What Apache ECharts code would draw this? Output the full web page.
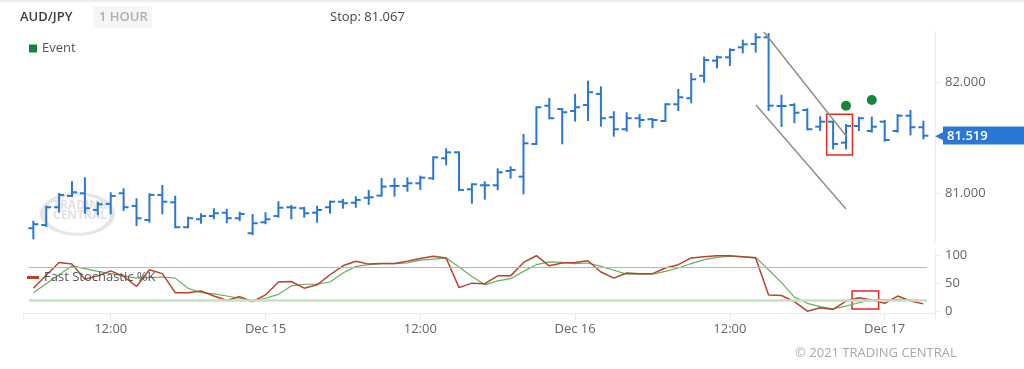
<!DOCTYPE html>
<html><head><meta charset="utf-8">
<script src="https://cdn.jsdelivr.net/npm/echarts@6/dist/echarts.min.js"></script>
<style>html,body{margin:0;padding:0;background:#fff}#c{width:1024px;height:369px}</style>
</head><body><div id="c"></div>
<script>
// Hourly bars, Dec 14 06:00 .. Dec 17 03:00 (index = hours since Dec 14 06:00)
const opens = [80.685,80.714,80.874,80.976,81.000,80.850,80.904,81.000,80.886,80.759,
80.985,80.919,80.694,80.766,80.795,80.825,80.775,80.640,80.739,80.795,
80.874,80.865,80.825,80.874,80.924,80.915,80.960,80.979,81.066,81.066,
81.090,81.135,81.315,81.369,81.036,81.072,81.072,81.201,81.150,81.444,
81.789,81.759,81.741,81.795,81.895,81.685,81.577,81.676,81.667,81.651,
81.802,81.856,82.059,82.195,82.225,82.315,82.345,82.405,81.786,81.795,
81.750,81.600,81.645,81.456,81.606,81.561,81.645,81.561,81.699,81.595];
const highs = [80.744,80.879,80.994,81.099,81.135,80.915,81.000,81.036,80.946,80.991,
81.066,80.969,80.780,80.811,80.856,80.850,80.825,80.804,80.820,80.919,
80.886,80.870,80.879,80.924,80.940,80.964,81.021,81.129,81.129,81.135,
81.150,81.324,81.396,81.369,81.081,81.099,81.216,81.234,81.525,81.775,
81.850,81.759,81.886,82.005,81.955,81.730,81.721,81.705,81.669,81.802,
81.931,82.075,82.222,82.231,82.297,82.375,82.435,82.435,81.879,81.802,
81.757,81.685,81.645,81.615,81.681,81.681,81.651,81.705,81.741,81.645];
const lows = [80.594,80.705,80.834,80.976,80.825,80.811,80.820,80.850,80.714,80.744,
80.820,80.694,80.694,80.735,80.775,80.739,80.759,80.631,80.730,80.789,
80.775,80.789,80.744,80.825,80.870,80.879,80.904,80.979,80.979,81.023,
81.039,81.129,81.261,81.030,80.915,80.951,81.036,81.141,81.000,81.444,
81.676,81.450,81.654,81.660,81.609,81.519,81.564,81.600,81.595,81.651,
81.750,81.820,82.005,82.135,82.156,82.270,82.276,81.750,81.606,81.640,
81.577,81.570,81.405,81.405,81.570,81.555,81.474,81.555,81.531,81.495];
const closes = [80.721,80.874,80.985,81.009,80.865,80.901,80.976,80.874,80.775,80.985,
80.924,80.694,80.775,80.795,80.820,80.775,80.814,80.730,80.766,80.870,
80.870,80.820,80.850,80.924,80.910,80.940,80.964,81.060,81.066,81.090,
81.141,81.324,81.369,81.030,81.081,81.072,81.189,81.210,81.450,81.775,
81.676,81.730,81.775,81.910,81.676,81.577,81.676,81.660,81.660,81.802,
81.865,82.027,82.200,82.225,82.291,82.342,82.405,81.789,81.786,81.726,
81.577,81.645,81.444,81.606,81.676,81.600,81.480,81.699,81.595,81.519];
const fastK = [42,65,88,85,58,64,73,63,45,75,
68,34,34,37,28,20,27,18,30,53,
54,42,48,66,82,90,85,86,86,90,
95,99,96,43,51,50,64,64,88,100,
82,87,88,91,71,60,69,68,68,78,
84,96,98,100,100,98,96,30,29,18,
1,7,4,19,25,21,15,28,19,14];
const slowD = [34,50,66,82,77,72,68,64,60,61,
62,60,42,34,32,28,24,20,24,31,
46,49,49,53,69,81,84,86,86,87,
92,94,96,80,63,48,55,59,72,84,
89,88,86,87,81,74,67,67,67,72,
78,86,93,97,99,98,97,75,52,26,
15,9,5,10,16,21,21,22,21,20];
const events = [[63,81.789],[65,81.840]];
const lastPrice = 81.519;
const tickIdx = [6,18,30,42,54,66];
const tickLabels = ['12:00','Dec 15','12:00','Dec 16','12:00','Dec 17'];
const priceTicks = [81,82];
const stochTicks = [0,50,100];

const ohlcData = opens.map((o,i)=>[i,o,highs[i],lows[i],closes[i]]);
const X_MIN = -0.8, X_MAX = 69.9;
const FONT = '"Open Sans", sans-serif';
const BLUE = '#2b78d4';

function renderOHLC(params, api){
  const x = api.value(0);
  const pO = api.coord([x, api.value(1)]);
  const pH = api.coord([x, api.value(2)]);
  const pL = api.coord([x, api.value(3)]);
  const pC = api.coord([x, api.value(4)]);
  const w = 5;
  const style = {stroke: BLUE, lineWidth: 2};
  return {type:'group', children:[
    {type:'line', shape:{x1:pH[0],y1:pH[1]-1,x2:pL[0],y2:pL[1]+1}, style},
    {type:'line', shape:{x1:pO[0]-w,y1:pO[1],x2:pO[0],y2:pO[1]}, style},
    {type:'line', shape:{x1:pC[0],y1:pC[1],x2:pC[0]+w,y2:pC[1]}, style}
  ]};
}

const chart = echarts.init(document.getElementById('c'), null, {renderer:'canvas'});
const faint = '#ebebeb';
chart.setOption({
  animation:false,
  textStyle:{fontFamily:FONT},
  graphic:[
    {type:'rect', shape:{x:0,y:0,width:1024,height:2}, style:{fill:'#eeeeee'}},
    {type:'text', x:20, y:17, style:{text:'AUD/JPY', font:'600 13px '+FONT, fill:'#3d3d3d', textVerticalAlign:'middle'}},
    {type:'rect', shape:{x:93,y:6,width:59,height:22,r:3}, style:{fill:'#f5f5f5'}},
    {type:'text', x:99, y:17, style:{text:'1 HOUR', font:'600 13px '+FONT, fill:'#b0b0b0', textVerticalAlign:'middle'}},
    {type:'text', x:330, y:17, style:{text:'Stop: 81.067', font:'13px '+FONT, fill:'#444', textVerticalAlign:'middle'}},
    {type:'text', x:795, y:353, style:{text:'© 2021 TRADING CENTRAL', font:'13px '+FONT, fill:'#a8a8a8', textVerticalAlign:'middle'}},
    {type:'group', z:0, children:[
      {type:'circle', x:77.5, y:214, scaleX:1, scaleY:0.58, shape:{cx:0,cy:0,r:35}, style:{fill:'none', stroke:'#e6e6e6', lineWidth:5}},
      {type:'text', x:53, y:206, style:{text:'TRADING', font:'bold 12px '+FONT, fill:'#e2e2e2', textVerticalAlign:'middle'}},
      {type:'text', x:53, y:216, style:{text:'CENTRAL', font:'bold 12px '+FONT, fill:'#e2e2e2', textVerticalAlign:'middle'}}
    ]}
  ],
  legend:[
    {data:['Event'], left:24, top:37, icon:'rect', itemWidth:8, itemHeight:8, itemGap:5,
     textStyle:{color:'#555', fontSize:13, fontFamily:FONT}},
    {data:['Fast Stochastic %K'], left:22, top:266, icon:'rect', itemWidth:12, itemHeight:3, itemGap:5,
     textStyle:{color:'#555', fontSize:13, fontFamily:FONT}}
  ],
  grid:[
    {left:23, right:89, top:32, height:210},
    {left:23, right:89, top:250, height:63}
  ],
  xAxis:[
    {gridIndex:0, type:'value', min:X_MIN, max:X_MAX, show:false, axisLine:{show:false, onZero:false}, axisTick:{show:false}, axisLabel:{show:false}, splitLine:{show:false}},
    {gridIndex:1, type:'value', min:X_MIN, max:X_MAX,
     axisLine:{show:true, onZero:false, lineStyle:{color:faint}},
     axisTick:{show:true, customValues:[X_MIN].concat(tickIdx).concat([X_MAX]), length:7, lineStyle:{color:faint}},
     axisLabel:{show:true, customValues:tickIdx, color:'#666', fontSize:13, margin:10, fontFamily:FONT,
       formatter:(v)=>{const k=tickIdx.indexOf(Math.round(v)); return k>=0?tickLabels[k]:'';}},
     splitLine:{show:false}}
  ],
  yAxis:[
    {gridIndex:0, type:'value', position:'right', min:80.561, max:82.453,
     axisLine:{show:true, onZero:false, lineStyle:{color:faint}},
     axisTick:{show:true, customValues:priceTicks, length:7, lineStyle:{color:faint}},
     axisLabel:{show:true, customValues:priceTicks, color:'#666', fontSize:13, margin:10, fontFamily:FONT, formatter:(v)=>v.toFixed(3)},
     splitLine:{show:false}},
    {gridIndex:1, type:'value', position:'right', min:-2.3, max:110.2,
     axisLine:{show:true, onZero:false, lineStyle:{color:faint}},
     axisTick:{show:true, customValues:stochTicks, length:7, lineStyle:{color:faint}},
     axisLabel:{show:true, customValues:stochTicks, color:'#666', fontSize:13, margin:10, fontFamily:FONT},
     splitLine:{show:false}}
  ],
  series:[
    {name:'AUD/JPY', type:'custom', xAxisIndex:0, yAxisIndex:0, renderItem:renderOHLC, data:ohlcData,
     encode:{x:0, y:[1,2,3,4]}, z:3,
     markLine:{silent:true, symbol:['none','none'], animation:false,
       data:[
         [{coord:[56.64,82.453], lineStyle:{color:'#8f8f8f', width:1.5, type:'solid'}, label:{show:false}},{coord:[63.08,81.507]}],
         [{coord:[56.02,81.795], lineStyle:{color:'#8f8f8f', width:1.5, type:'solid'}, label:{show:false}},{coord:[63.0,80.859]}]
       ]},
     markArea:{silent:true, data:[[{coord:[61.5,81.712], itemStyle:{color:'rgba(0,0,0,0)', borderColor:'#e8281e', borderWidth:1.5}},{coord:[63.5,81.345]}]]}
    },
    {name:'Last', type:'line', xAxisIndex:0, yAxisIndex:0, data:[[69,lastPrice]], symbol:'none', lineStyle:{width:0}, z:5,
     markLine:{silent:true, symbol:['none','none'], lineStyle:{color:'rgba(0,0,0,0)', width:1},
       data:[{yAxis:lastPrice}],
       label:{show:true, position:'end', distance:0,
         formatter:'{a|◀}{b|'+lastPrice.toFixed(3)+'}',
         rich:{a:{color:BLUE, fontSize:11}, b:{backgroundColor:BLUE, color:'#fff', fontSize:13, fontWeight:600, fontFamily:FONT, padding:[3,40,2,4], lineHeight:13}}}}},
    {name:'Event', type:'scatter', xAxisIndex:0, yAxisIndex:0, data:events, symbol:'circle', symbolSize:10,
     itemStyle:{color:'#16843f', opacity:1}, z:4},
    {name:'Slow %D', type:'line', xAxisIndex:1, yAxisIndex:1, data:slowD.map((v,i)=>[i,v]), symbol:'none',
     lineStyle:{color:'#6aae62', width:1.2}, z:2,
     markLine:{silent:true, symbol:['none','none'], label:{show:false},
       data:[
         [{coord:[-0.33,80], lineStyle:{color:'#aebcab', width:1, type:'solid'}},{coord:[69.28,80]}],
         [{coord:[-0.33,20], lineStyle:{color:'#c6dfc1', width:2.5, type:'solid'}},{coord:[69.28,20]}]
       ]}},
    {name:'Fast Stochastic %K', type:'line', xAxisIndex:1, yAxisIndex:1, data:fastK.map((v,i)=>[i,v]), symbol:'none',
     itemStyle:{color:'#b5452e'}, lineStyle:{color:'#b5452e', width:1.5}, z:3,
     markArea:{silent:true, data:[[{coord:[63.47,37], itemStyle:{color:'rgba(0,0,0,0)', borderColor:'#e8281e', borderWidth:1.5}},{coord:[65.53,5]}]]}}
  ]
});
</script></body></html>
